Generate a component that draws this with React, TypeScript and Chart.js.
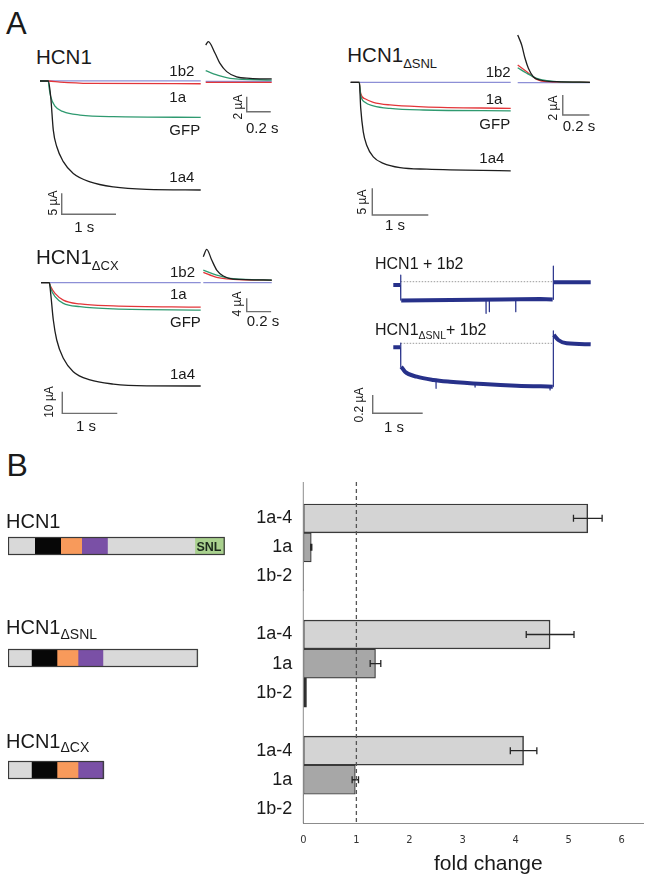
import React, { useEffect, useRef } from 'react';
import { Chart, registerables } from 'chart.js';

Chart.register(...registerables);

const FONT = "'Liberation Sans', Arial, Helvetica, sans-serif";
const NARROW = "'Liberation Sans Narrow', 'DejaVu Sans Condensed', 'Liberation Sans', sans-serif";

// ---------- Panel A traces: [time (s) from pulse onset, current (µA)] ----------
// HCN1
const hcn1_1a4 = [[-0.153, 0], [0, 0], [0.044, -3.7], [0.092, -11.7], [0.155, -15.6], [0.276, -19.2], [0.46, -22.0], [0.768, -24.0], [1.197, -25.2], [1.812, -25.8], [2.807, -25.95]];
const hcn1_gfp = [[-0.153, 0], [0, 0], [0.013, -1.4], [0.044, -3.7], [0.123, -6.0], [0.276, -7.3], [0.584, -8.1], [1.197, -8.5], [2.807, -8.65]];
const hcn1_1a = [[-0.153, 0], [0, 0], [0.215, -0.25], [0.768, -0.55], [2.807, -0.65]];
const hcn1_1b2 = [[-0.153, 0.05], [2.807, 0.05]];
const hcn1Tail_1a4 = [[0, 4.8], [0.022, 5.25], [0.078, 3.7], [0.119, 2.35], [0.175, 1.25], [0.258, 0.55], [0.369, 0.35], [0.55, 0.27]];
const hcn1Tail_gfp = [[0, 1.37], [0.119, 0.67], [0.203, 0.36], [0.55, 0.13]];
const hcn1Tail_1a = [[0, -0.17], [0.55, -0.17]];
const hcn1Tail_1b2 = [[0, -0.04], [0.55, -0.04]];

// HCN1 ΔSNL
const snl_1a4 = [[-0.154, 0], [0, 0], [0.025, -4.8], [0.071, -9.3], [0.132, -11.8], [0.25, -14.0], [0.429, -15.2], [0.727, -16.0], [1.204, -16.3], [2.704, -16.6]];
const snl_1a = [[-0.154, 0], [0, 0], [0.025, -2.1], [0.102, -3.1], [0.25, -3.75], [0.548, -4.25], [1.143, -4.6], [2.704, -4.9]];
const snl_gfp = [[-0.154, 0], [0, 0], [0.025, -2.4], [0.102, -3.75], [0.25, -4.4], [0.548, -4.9], [1.143, -5.2], [2.704, -5.35]];
const snl_1b2 = [[-0.154, 0], [2.704, 0]];
const snlTail_1a4 = [[0, 4.73], [0.03, 3.73], [0.055, 2.4], [0.08, 1.4], [0.117, 0.56], [0.167, 0.23], [0.293, 0.06], [0.542, 0]];
const snlTail_1a = [[0, 1.73], [0.068, 1.06], [0.143, 0.3], [0.218, 0.06], [0.542, 0]];
const snlTail_gfp = [[0, 1.46], [0.068, 0.9], [0.143, 0.4], [0.218, 0.16], [0.293, 0.06], [0.542, 0]];
const snlTail_1b2 = [[0, -0.03], [0.542, -0.03]];

// HCN1 ΔCX
const cx_1a4 = [[-0.151, 0], [0, 0], [0.025, -4.9], [0.073, -17.2], [0.135, -26.4], [0.255, -34.8], [0.436, -41.0], [0.74, -44.8], [1.164, -46.7], [1.771, -47.5], [2.753, -47.6]];
const cx_1a = [[-0.151, 0], [0, 0], [0.025, -1.8], [0.104, -4.9], [0.255, -8.0], [0.558, -9.8], [1.164, -10.7], [2.753, -11.3]];
const cx_gfp = [[-0.151, 0], [0, 0], [0.025, -2.6], [0.104, -6.45], [0.255, -9.5], [0.558, -11.05], [1.164, -12.1], [2.753, -12.6]];
const cx_1b2 = [[-0.151, 0], [2.753, 0]];
const cxTail_1a4 = [[0, 7.8], [0.028, 10.0], [0.069, 6.8], [0.11, 3.8], [0.164, 2.0], [0.246, 1.1], [0.561, 0.8]];
const cxTail_gfp = [[0, 3.8], [0.11, 2.3], [0.246, 1.2], [0.561, 0.8]];
const cxTail_1a = [[0, 3.1], [0.11, 1.6], [0.246, 1.0], [0.561, 0.7]];
const cxTail_1b2 = [[0, 0], [0.561, 0]];

// HCN1 + 1b2 and HCN1ΔSNL + 1b2 (µA)
const wt1b2_band = [[-0.148, -0.036], [-0.01, -0.036], [0.005, null], [0.01, -0.205], [1.0, -0.2], [2.0, -0.194], [2.79, -0.189], [3.04, -0.194], [3.05, null], [3.066, -0.007], [3.8, -0.007]];
const wt1b2_fast = [[-0.002, -0.036], [0, 0.073], [0.002, -0.2], [0.003, null], [1.706, -0.2], [1.707, -0.345], [1.708, -0.2], [1.709, null], [1.772, -0.2], [1.773, -0.327], [1.774, -0.2], [1.775, null], [2.3, -0.194], [2.301, -0.327], [2.302, -0.194], [2.303, null], [3.05, -0.194], [3.052, 0.171], [3.054, -0.007]];
const snl1b2_band = [[-0.148, -0.044], [-0.01, -0.044], [0.005, null], [0.01, -0.255], [0.086, -0.31], [0.32, -0.364], [0.652, -0.4], [0.986, -0.419], [1.652, -0.444], [2.32, -0.462], [3.042, -0.473], [3.05, null], [3.062, 0.091], [3.152, 0.036], [3.32, 0], [3.8, -0.011]];
const snl1b2_fast = [[-0.002, -0.044], [0, 0.003], [0.002, -0.255], [0.003, null], [0.706, -0.402], [0.707, -0.491], [0.708, -0.402], [0.709, null], [1.486, -0.436], [1.487, -0.477], [1.488, -0.436], [1.489, null], [2.986, -0.472], [2.987, -0.509], [2.988, -0.472], [2.989, null], [3.05, -0.473], [3.052, 0.137], [3.054, 0.091]];
const zeroLine = [[0, 0], [3.05, 0]];

// ---------- Panel B ----------
const groups = ['HCN1', 'HCN1ΔSNL', 'HCN1ΔCX'];
const variants = ['1a-4', '1a', '1b-2'];
const fold1a4 = [5.36, 4.65, 4.15];
const err1a4 = [0.27, 0.45, 0.25];
const fold1a = [0.15, 1.36, 0.98];
const err1a = [0.01, 0.1, 0.06];
const fold1b2 = [0.006, 0.06, 0.006];
const err1b2 = [0, 0, 0];
const foldTicks = [0, 1, 2, 3, 4, 5, 6];

// domain schematic segment lengths (relative units)
const segNterm = [12.3, 10.8, 10.8];
const segBlack = [12.0, 11.8, 11.8];
const segOrange = [9.7, 9.7, 9.7];
const segPurple = [11.9, 11.5, 11.9];
const segCterm = [40.3, 43.8, 0];
const segSNL = [13.8, 0, 0];

// ---------- colours ----------
const C_BLACK = '#1e1e1e';
const C_GREEN = '#2f9a70';
const C_RED = '#e3363a';
const C_LAV = '#8d8fd6';
const C_NAVY = '#27318a';

function ChartCanvas({ box, make }: any) {
  const ref = useRef<HTMLCanvasElement | null>(null);
  useEffect(() => {
    const chart = new Chart(ref.current as HTMLCanvasElement, make());
    return () => chart.destroy();
  }, []);
  return (
    <canvas
      ref={ref}
      width={box.width}
      height={box.height}
      style={{ position: 'absolute', left: box.left, top: box.top, width: box.width, height: box.height }}
    />
  );
}

function scaleBarPlugin(bar: any) {
  return {
    id: 'scalebar',
    afterDatasetsDraw(chart: any) {
      if (!bar) return;
      const xs = chart.scales.x;
      const ys = chart.scales.y;
      const ctx = chart.ctx;
      const x0 = xs.getPixelForValue(bar.t);
      const y0 = ys.getPixelForValue(bar.i);
      const x1 = xs.getPixelForValue(bar.t + bar.lenT);
      const y1 = ys.getPixelForValue(bar.i + bar.lenI);
      ctx.save();
      ctx.strokeStyle = '#6f6f6f';
      ctx.lineWidth = 1.4;
      ctx.beginPath();
      ctx.moveTo(x0, y1);
      ctx.lineTo(x0, y0);
      ctx.lineTo(x1, y0);
      ctx.stroke();
      ctx.restore();
    },
  };
}

function traceMaker(box: any, origin: any, px: any, series: any[], bar?: any) {
  return () => ({
    type: 'line',
    data: {
      datasets: series.map((s) => ({
        data: s.pts.map((p: any) => ({ x: p[0], y: p[1] })),
        borderColor: s.color,
        borderWidth: s.w ?? 1.3,
        borderDash: s.dash ?? [],
        borderCapStyle: 'butt',
        borderJoinStyle: 'round',
        pointRadius: 0,
        pointHoverRadius: 0,
        fill: false,
        spanGaps: false,
        clip: false,
        tension: 0,
        cubicInterpolationMode: s.smooth ? 'monotone' : 'default',
      })),
    },
    options: {
      responsive: false,
      animation: false,
      devicePixelRatio: 1,
      events: [],
      layout: { padding: 0 },
      plugins: { legend: { display: false }, tooltip: { enabled: false } },
      scales: {
        x: { type: 'linear', display: false, min: (box.left - origin.x) / px.x, max: (box.left + box.width - origin.x) / px.x },
        y: { type: 'linear', display: false, min: (origin.y - box.top - box.height) / px.y, max: (origin.y - box.top) / px.y },
      },
    },
    plugins: [scaleBarPlugin(bar)],
  });
}

function fourTraces(k1a4: any, gfp: any, k1a: any, k1b2: any) {
  return [
    { pts: k1a4, color: C_BLACK, smooth: true },
    { pts: gfp, color: C_GREEN, smooth: true },
    { pts: k1a, color: C_RED, smooth: true },
    { pts: k1b2, color: C_LAV },
  ];
}

function Txt({ x, y, size, children, anchor = 'start', rotate = false, weight = 400, color = '#1a1a1a', family = FONT }: any) {
  const tx = anchor === 'start' ? '0' : anchor === 'end' ? '-100%' : '-50%';
  const style: any = {
    position: 'absolute',
    left: x,
    top: y,
    fontSize: size,
    lineHeight: `${size}px`,
    whiteSpace: 'nowrap',
    fontFamily: family,
    fontWeight: weight,
    color,
    transform: rotate ? 'translate(-50%,-50%) rotate(-90deg)' : `translate(${tx},-50%)`,
  };
  return <div style={style}>{children}</div>;
}

function Sub({ size, dy, children }: any) {
  return <span style={{ fontSize: size, position: 'relative', top: dy }}>{children}</span>;
}

function barMaker(box: any) {
  const rows: any[] = [];
  groups.forEach((g, gi) => {
    if (gi > 0) rows.push(null);
    variants.forEach((v, vi) => rows.push({ g: gi, v: vi }));
  });
  const labels = rows.map((r) => (r ? variants[r.v] : ''));
  const folds = [fold1a4, fold1a, fold1b2];
  const errs = [err1a4, err1a, err1b2];
  const fills = ['#d4d4d4', '#a7a7a7', '#2c2c2c'];
  const edges = ['#3a3a3a', '#3a3a3a', '#2c2c2c'];
  const widths = [1.5, 1.2, 1];
  const errPerDs = variants.map((v, vi) => rows.map((r) => (r && r.v === vi ? errs[vi][r.g] : null)));
  const plug = {
    id: 'extras',
    afterDatasetsDraw(chart: any) {
      const ctx = chart.ctx;
      const xs = chart.scales.x;
      const area = chart.chartArea;
      const x0 = xs.getPixelForValue(0);
      const x1 = xs.getPixelForValue(1);
      ctx.save();
      // value axis line
      ctx.strokeStyle = '#8c8c8c';
      ctx.lineWidth = 1;
      ctx.beginPath();
      ctx.moveTo(x0, 0);
      ctx.lineTo(x0, area.bottom);
      ctx.stroke();
      // error bars
      ctx.strokeStyle = '#262626';
      ctx.lineWidth = 1.3;
      chart.data.datasets.forEach((ds: any, di: number) => {
        const meta = chart.getDatasetMeta(di);
        meta.data.forEach((el: any, i: number) => {
          const v = ds.data[i];
          const e = errPerDs[di][i];
          if (v == null || !e) return;
          const a = xs.getPixelForValue(v - e);
          const b = xs.getPixelForValue(v + e);
          const y = el.y;
          ctx.beginPath();
          ctx.moveTo(a, y);
          ctx.lineTo(b, y);
          ctx.moveTo(a, y - 3.5);
          ctx.lineTo(a, y + 3.5);
          ctx.moveTo(b, y - 3.5);
          ctx.lineTo(b, y + 3.5);
          ctx.stroke();
        });
      });
      // reference line at fold change = 1
      ctx.strokeStyle = '#555';
      ctx.lineWidth = 1.3;
      ctx.setLineDash([4, 3]);
      ctx.beginPath();
      ctx.moveTo(x1, 0);
      ctx.lineTo(x1, area.bottom);
      ctx.stroke();
      ctx.restore();
    },
  };
  return () => ({
    type: 'bar',
    data: {
      labels,
      datasets: variants.map((v, vi) => ({
        label: v,
        data: rows.map((r) => (r && r.v === vi ? folds[vi][r.g] : null)),
        backgroundColor: fills[vi],
        borderColor: edges[vi],
        borderWidth: widths[vi],
        borderSkipped: false,
        grouped: false,
        barPercentage: 1,
        categoryPercentage: 1,
      })),
    },
    options: {
      indexAxis: 'y',
      responsive: false,
      animation: false,
      devicePixelRatio: 1,
      events: [],
      layout: { padding: { top: 18.7, right: 6, left: 0, bottom: 0 } },
      plugins: { legend: { display: false }, tooltip: { enabled: false } },
      scales: {
        x: {
          type: 'linear',
          min: 0,
          max: 6.4,
          afterFit: (s: any) => { s.height = 58.7; },
          afterBuildTicks: (s: any) => { s.ticks = foldTicks.map((v) => ({ value: v })); },
          grid: { display: false, drawTicks: false },
          border: { display: true, color: '#8c8c8c', width: 1 },
          ticks: { padding: 10.2, color: '#333', font: { family: NARROW, size: 11 } },
        },
        y: {
          type: 'category',
          afterFit: (s: any) => { s.width = 63.3; },
          grid: { display: false, drawTicks: false },
          border: { display: false },
          ticks: { autoSkip: false, padding: 11, color: '#1a1a1a', font: { family: FONT, size: 18 } },
        },
      },
    },
    plugins: [plug],
  });
}

function schemeMaker(box: any) {
  const segs = [segNterm, segBlack, segOrange, segPurple, segCterm, segSNL];
  const colors = ['#d9d9d9', '#070707', '#f89a5b', '#7a50a6', '#d9d9d9', '#a9d18e'];
  const totals = groups.map((g, gi) => segs.reduce((a, s) => a + s[gi], 0));
  const outline = {
    id: 'outline',
    afterDatasetsDraw(chart: any) {
      const ctx = chart.ctx;
      const xs = chart.scales.x;
      const ys = chart.scales.y;
      ctx.save();
      ctx.strokeStyle = '#3a3a3a';
      ctx.lineWidth = 1.2;
      totals.forEach((t, gi) => {
        const yc = ys.getPixelForValue(gi);
        const a = xs.getPixelForValue(0);
        const b = xs.getPixelForValue(t);
        ctx.strokeRect(a + 0.5, yc - 8.5, b - a - 1, 17);
      });
      ctx.restore();
    },
  };
  return () => ({
    type: 'bar',
    data: {
      labels: groups,
      datasets: segs.map((s, si) => ({
        data: s,
        backgroundColor: colors[si],
        borderWidth: 0,
        barThickness: 17,
      })),
    },
    options: {
      indexAxis: 'y',
      responsive: false,
      animation: false,
      devicePixelRatio: 1,
      events: [],
      layout: { padding: 0 },
      plugins: { legend: { display: false }, tooltip: { enabled: false } },
      scales: {
        x: { type: 'linear', stacked: true, display: false, min: 0, max: box.width / 2.167 },
        y: { type: 'category', stacked: true, display: false },
      },
    },
    plugins: [outline],
  });
}

// ---------- layout boxes ----------
const boxA1 = { left: 35, top: 70, width: 170, height: 160 };
const boxA1i = { left: 202, top: 35, width: 80, height: 85 };
const boxA2 = { left: 345, top: 72, width: 170, height: 150 };
const boxA2i = { left: 514, top: 28, width: 82, height: 92 };
const boxA3 = { left: 35, top: 272, width: 170, height: 150 };
const boxA3i = { left: 199, top: 242, width: 85, height: 75 };
const boxA4a = { left: 385, top: 255, width: 212, height: 65 };
const boxA4b = { left: 365, top: 322, width: 232, height: 100 };
const boxBar = { left: 240, top: 482, width: 409, height: 400 };
const boxScheme = { left: 8, top: 490, width: 232, height: 336 };

const mkA1 = traceMaker(boxA1, { x: 48.3, y: 81 }, { x: 54.3, y: 4.2 }, fourTraces(hcn1_1a4, hcn1_gfp, hcn1_1a, hcn1_1b2), { t: 0.247, i: -31.74, lenT: 1, lenI: 5 });
const mkA1i = traceMaker(boxA1i, { x: 205.7, y: 81 }, { x: 120, y: 7.5 }, fourTraces(hcn1Tail_1a4, hcn1Tail_gfp, hcn1Tail_1a, hcn1Tail_1b2), { t: 0.342, i: -4.09, lenT: 0.2, lenI: 2 });
const mkA2 = traceMaker(boxA2, { x: 359.3, y: 82.3 }, { x: 56, y: 5.33 }, fourTraces(snl_1a4, snl_gfp, snl_1a, snl_1b2), { t: 0.232, i: -24.9, lenT: 1, lenI: 5 });
const mkA2i = traceMaker(boxA2i, { x: 517.7, y: 82.3 }, { x: 133.3, y: 10 }, fourTraces(snlTail_1a4, snlTail_gfp, snlTail_1a, snlTail_1b2), { t: 0.338, i: -3.27, lenT: 0.2, lenI: 2 });
const mkA3 = traceMaker(boxA3, { x: 49.3, y: 282.7 }, { x: 55, y: 2.17 }, fourTraces(cx_1a4, cx_gfp, cx_1a, cx_1b2), { t: 0.236, i: -60.2, lenT: 1, lenI: 10 });
const mkA3i = traceMaker(boxA3i, { x: 203.3, y: 282.7 }, { x: 122, y: 3.33 }, fourTraces(cxTail_1a4, cxTail_gfp, cxTail_1a, cxTail_1b2), { t: 0.356, i: -8.7, lenT: 0.2, lenI: 4 });
const mkA4a = traceMaker(boxA4a, { x: 400.7, y: 281.7 }, { x: 50, y: 91.7 }, [
  { pts: wt1b2_fast, color: C_NAVY, w: 1.2 },
  { pts: wt1b2_band, color: C_NAVY, w: 4 },
  { pts: zeroLine, color: '#9a9a9a', w: 1, dash: [1.5, 1.5] },
]);
const mkA4b = traceMaker(boxA4b, { x: 400.7, y: 343.3 }, { x: 50, y: 91.7 }, [
  { pts: snl1b2_fast, color: C_NAVY, w: 1.2 },
  { pts: snl1b2_band, color: C_NAVY, w: 4, smooth: true },
  { pts: zeroLine, color: '#9a9a9a', w: 1, dash: [1.5, 1.5] },
], { t: -0.56, i: -0.763, lenT: 1, lenI: 0.2 });
const mkBar = barMaker(boxBar);
const mkScheme = schemeMaker(boxScheme);

export default function App() {
  return (
    <div style={{ position: 'absolute', left: 0, top: 0, width: 649, height: 882, overflow: 'hidden', background: '#fff', fontFamily: FONT }}>
      <ChartCanvas box={boxA1} make={mkA1} />
      <ChartCanvas box={boxA1i} make={mkA1i} />
      <ChartCanvas box={boxA2} make={mkA2} />
      <ChartCanvas box={boxA2i} make={mkA2i} />
      <ChartCanvas box={boxA3} make={mkA3} />
      <ChartCanvas box={boxA3i} make={mkA3i} />
      <ChartCanvas box={boxA4a} make={mkA4a} />
      <ChartCanvas box={boxA4b} make={mkA4b} />
      <ChartCanvas box={boxBar} make={mkBar} />
      <ChartCanvas box={boxScheme} make={mkScheme} />

      <Txt x={6} y={23.3} size={31}>A</Txt>
      <Txt x={6.5} y={465.3} size={32}>B</Txt>

      {/* Panel A titles */}
      <Txt x={36} y={57.3} size={20.5}>HCN1</Txt>
      <Txt x={347.3} y={56.7} size={20.5}>HCN1<Sub size={13} dy={6}>ΔSNL</Sub></Txt>
      <Txt x={36} y={258.8} size={20.5}>HCN1<Sub size={13} dy={6}>ΔCX</Sub></Txt>

      {/* HCN1 trace labels */}
      <Txt x={169.3} y={70} size={15}>1b2</Txt>
      <Txt x={169.3} y={95.7} size={15}>1a</Txt>
      <Txt x={169.3} y={128.5} size={15}>GFP</Txt>
      <Txt x={169.3} y={175.5} size={15}>1a4</Txt>
      <Txt x={52.7} y={203} size={12} rotate>5 µA</Txt>
      <Txt x={84.2} y={225.5} size={15} anchor="middle">1 s</Txt>
      <Txt x={237.5} y={107} size={12} rotate>2 µA</Txt>
      <Txt x={246} y={126.5} size={15}>0.2 s</Txt>

      {/* ΔSNL trace labels */}
      <Txt x={485.7} y={71.3} size={15}>1b2</Txt>
      <Txt x={485.7} y={98} size={15}>1a</Txt>
      <Txt x={479.3} y={122.5} size={15}>GFP</Txt>
      <Txt x={479.3} y={157} size={15}>1a4</Txt>
      <Txt x={361.7} y={201.7} size={12} rotate>5 µA</Txt>
      <Txt x={395} y={224.3} size={15} anchor="middle">1 s</Txt>
      <Txt x={553.3} y={107.5} size={12} rotate>2 µA</Txt>
      <Txt x={562.7} y={125} size={15}>0.2 s</Txt>

      {/* ΔCX trace labels */}
      <Txt x={170} y={271} size={15}>1b2</Txt>
      <Txt x={170} y={293.3} size={15}>1a</Txt>
      <Txt x={170} y={321.3} size={15}>GFP</Txt>
      <Txt x={170} y={373.3} size={15}>1a4</Txt>
      <Txt x={49.3} y={401.7} size={12} rotate>10 µA</Txt>
      <Txt x={86} y={425} size={15} anchor="middle">1 s</Txt>
      <Txt x={237.3} y={304} size={12} rotate>4 µA</Txt>
      <Txt x={246.7} y={320} size={15}>0.2 s</Txt>

      {/* 1b2 co-expression */}
      <Txt x={375} y={263.5} size={16}>HCN1 + 1b2</Txt>
      <Txt x={375} y={330} size={16}>HCN1<Sub size={10.5} dy={4}>ΔSNL</Sub>+ 1b2</Txt>
      <Txt x={359.3} y={405} size={12} rotate>0.2 µA</Txt>
      <Txt x={394} y={426} size={15} anchor="middle">1 s</Txt>

      {/* Panel B construct labels */}
      <Txt x={6} y={520.5} size={20}>HCN1</Txt>
      <Txt x={6} y={628.3} size={20}>HCN1<Sub size={14} dy={4.5}>ΔSNL</Sub></Txt>
      <Txt x={6} y={741.7} size={20}>HCN1<Sub size={14} dy={4.5}>ΔCX</Sub></Txt>
      <Txt x={209} y={546.7} size={12.5} weight={700} anchor="middle" color="#1c2a1c">SNL</Txt>

      <Txt x={488.3} y={861.7} size={21} anchor="middle">fold change</Txt>
    </div>
  );
}
